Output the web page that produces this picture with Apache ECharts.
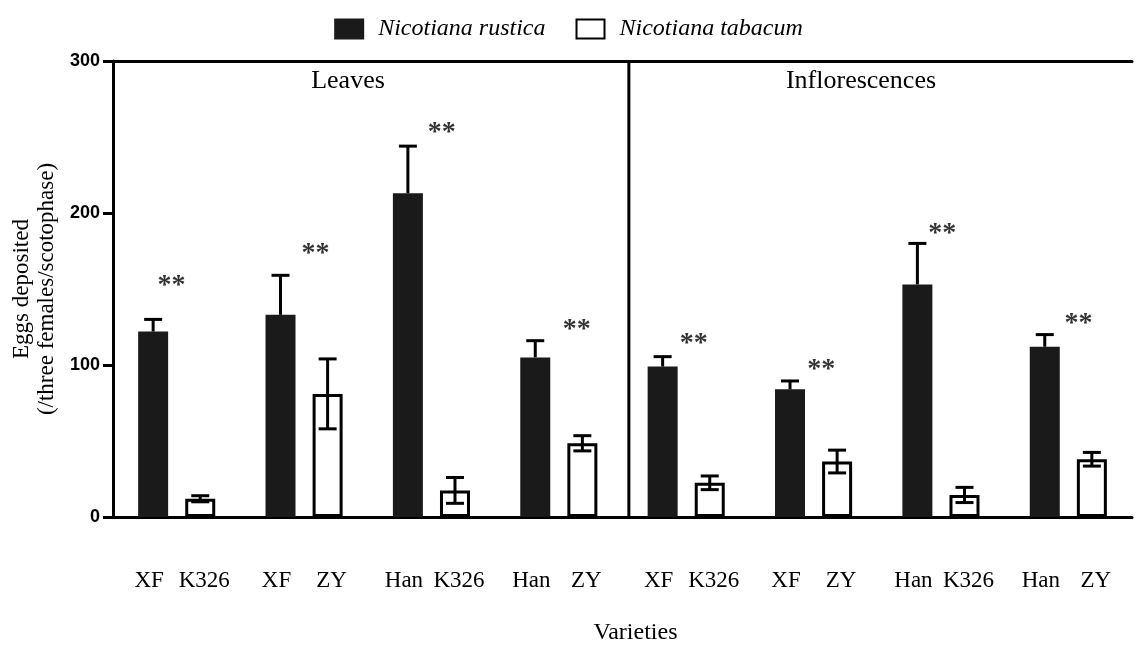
<!DOCTYPE html>
<html>
<head>
<meta charset="utf-8">
<script src="https://cdn.jsdelivr.net/npm/echarts@6/dist/echarts.min.js"></script>
<style>
  html, body { margin: 0; padding: 0; background: #fff; }
  #chart { width: 1137px; height: 645px; }
</style>
</head>
<body>
<div id="chart"></div>
<script>
// ---- data ----
const seriesNames = ['Nicotiana rustica', 'Nicotiana tabacum'];
const rusticaLabels = ['XF', 'XF', 'Han', 'Han', 'XF', 'XF', 'Han', 'Han'];
const tabacumLabels = ['K326', 'ZY', 'K326', 'ZY', 'K326', 'ZY', 'K326', 'ZY'];
const categories = ['XF-K326 L', 'XF-ZY L', 'Han-K326 L', 'Han-ZY L', 'XF-K326 I', 'XF-ZY I', 'Han-K326 I', 'Han-ZY I'];
const rustica = [122, 133, 213, 105, 99, 84, 153, 112];
const rusticaErr = [8, 26, 31, 11, 6.5, 5.5, 27, 8];
const tabacum = [12, 81, 17.5, 48.5, 22.5, 36.5, 14.5, 38];
const tabacumErr = [2, 23, 8.5, 5, 4.5, 7.5, 5, 4.5];
const starLabel = '**';
const starX = [0.46, 1.59, 2.58, 3.64, 4.56, 5.56, 6.51, 7.58];
const starY = [156, 177, 257, 127, 118, 101, 190, 131];
const panelNames = ['Leaves', 'Inflorescences'];
const dividerAt = 4.05;
const yTicks = { min: 0, max: 300, interval: 100 };

// ---- style ----
const SERIF = '"Liberation Serif", "Times New Roman", serif';
const SANS = '"Liberation Sans", Arial, sans-serif';
const BAR_W = 30, BAR_GAP = 0.57, CAP = 18, LW = 3;
const barOffset = BAR_W * (1 + BAR_GAP) / 2;

function errData(vals, errs) {
  return vals.map((v, i) => [i, v, v - errs[i], v + errs[i]]);
}
// upperOnly: the lower half of the whisker is hidden inside a filled bar
function errRender(offset, upperOnly) {
  return function (params, api) {
    const i = api.value(0);
    const mid = api.coord([i, api.value(1)]);
    const lo = api.coord([i, api.value(2)]);
    const hi = api.coord([i, api.value(3)]);
    const x = mid[0] + offset;
    const st = { stroke: '#000', lineWidth: LW };
    const startY = upperOnly ? mid[1] : lo[1];
    const children = [
      { type: 'line', shape: { x1: x, y1: startY, x2: x, y2: hi[1] }, style: st },
      { type: 'line', shape: { x1: x - CAP / 2, y1: hi[1], x2: x + CAP / 2, y2: hi[1] }, style: st }
    ];
    if (!upperOnly) {
      children.push({ type: 'line', shape: { x1: x - CAP / 2, y1: lo[1], x2: x + CAP / 2, y2: lo[1] }, style: st });
    }
    return { type: 'group', children };
  };
}

const chart = echarts.init(document.getElementById('chart'), null, { renderer: 'canvas' });
chart.setOption({
  animation: false,
  backgroundColor: '#fff',
  legend: {
    top: 12,
    left: 'center',
    icon: 'rect',
    itemWidth: 28,
    itemHeight: 19,
    itemGap: 30,
    data: seriesNames,
    textStyle: { fontFamily: SERIF, fontStyle: 'italic', fontSize: 24, color: '#000', padding: [0, 0, 0, 10] }
  },
  grid: { left: 113, right: 5, top: 61, bottom: 128, containLabel: false, outerBoundsMode: 'none' },
  xAxis: [
    {
      type: 'category',
      data: categories,
      position: 'bottom',
      axisLine: { lineStyle: { color: '#000', width: LW } },
      axisTick: { alignWithLabel: true, length: 7, lineStyle: { color: '#000', width: 2.5 } },
      axisLabel: {
        interval: 0,
        margin: 52,
        formatter: (v, i) => '{a|' + rusticaLabels[i] + '}{b|' + tabacumLabels[i] + '}',
        rich: {
          a: { width: 55, align: 'center', fontFamily: SERIF, fontSize: 23, color: '#000' },
          b: { width: 55, align: 'center', fontFamily: SERIF, fontSize: 23, color: '#000' }
        }
      },
      name: 'Varieties',
      nameLocation: 'middle',
      nameGap: 104,
      nameTextStyle: { fontFamily: SERIF, fontSize: 24, color: '#000', padding: [0, 0, 0, 26] }
    },
    {
      type: 'value',
      min: 0,
      max: 8,
      position: 'top',
      axisLine: { show: true, lineStyle: { color: '#000', width: LW } },
      axisTick: { show: false },
      axisLabel: { show: false },
      splitLine: { show: false }
    }
  ],
  yAxis: {
    type: 'value',
    min: yTicks.min,
    max: yTicks.max,
    interval: yTicks.interval,
    axisLine: { show: true, lineStyle: { color: '#000', width: LW } },
    axisTick: { show: true, length: 10, lineStyle: { color: '#000', width: LW } },
    splitLine: { show: false },
    axisLabel: { margin: 13, fontFamily: SANS, fontWeight: 'bold', fontSize: 18, color: '#000' },
    name: 'Eggs deposited\n(/three females/scotophase)',
    nameLocation: 'middle',
    nameGap: 54,
    nameRotate: 90,
    nameTextStyle: { fontFamily: SERIF, fontSize: 23, color: '#000', lineHeight: 25 }
  },
  series: [
    {
      name: seriesNames[0],
      type: 'bar',
      data: rustica,
      barWidth: BAR_W,
      barGap: (BAR_GAP * 100) + '%',
      itemStyle: { color: '#1a1a1a', borderColor: '#1a1a1a', borderWidth: LW },
      z: 2
    },
    {
      name: seriesNames[1],
      type: 'bar',
      data: tabacum,
      barWidth: BAR_W,
      barGap: (BAR_GAP * 100) + '%',
      itemStyle: { color: '#fff', borderColor: '#000', borderWidth: LW },
      z: 2
    },
    {
      type: 'custom',
      name: 'err-r',
      renderItem: errRender(-barOffset, true),
      data: errData(rustica, rusticaErr),
      encode: { x: 0, y: [2, 3] },
      z: 3,
      silent: true
    },
    {
      type: 'custom',
      name: 'err-t',
      renderItem: errRender(barOffset, false),
      data: errData(tabacum, tabacumErr),
      encode: { x: 0, y: [2, 3] },
      z: 3,
      silent: true
    },
    {
      type: 'scatter',
      xAxisIndex: 1,
      symbolSize: 0,
      data: starX.map((x, i) => [x, starY[i]]),
      label: {
        show: true,
        position: 'inside',
        offset: [0, 6],
        formatter: starLabel,
        fontFamily: SERIF,
        fontWeight: 'bold',
        fontSize: 28,
        color: '#000'
      },
      silent: true
    },
    {
      type: 'line',
      xAxisIndex: 1,
      data: [[dividerAt, yTicks.min], [dividerAt, yTicks.max]],
      symbol: 'none',
      lineStyle: { color: '#000', width: LW },
      silent: true
    }
  ],
  graphic: [
    { type: 'text', x: 348, y: 81, style: { text: panelNames[0], align: 'center', verticalAlign: 'middle', fontFamily: SERIF, fontSize: 26, fill: '#000' } },
    { type: 'text', x: 861, y: 81, style: { text: panelNames[1], align: 'center', verticalAlign: 'middle', fontFamily: SERIF, fontSize: 26, fill: '#000' } }
  ]
});
</script>
</body>
</html>
